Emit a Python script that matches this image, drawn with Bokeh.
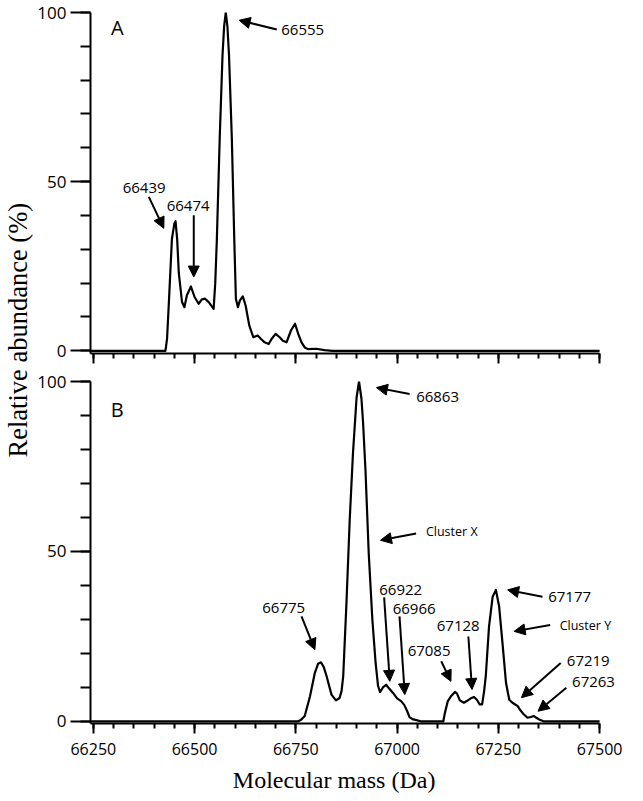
import math
from bokeh.plotting import figure
from bokeh.layouts import row, column
from bokeh.models import FixedTicker, Label, Arrow, NormalHead, Range1d
from bokeh.embed import file_html
from bokeh.resources import INLINE

# ---- data ----
mass_a = [66243, 66428, 66432, 66436, 66440, 66444, 66450, 66453, 66457, 66461,
          66469, 66475, 66481, 66491, 66500, 66510, 66518, 66526, 66535, 66547,
          66551, 66555, 66562, 66569, 66573, 66577, 66581, 66585, 66592, 66598,
          66602, 66607, 66612, 66619, 66626, 66635, 66645, 66656, 66664, 66673,
          66683, 66690, 66700, 66710, 66718, 66727, 66738, 66748, 66756, 66764,
          66772, 66780, 66800, 66821, 66840, 67500]
abund_a = [0, 0, 3.5, 13, 23, 33, 37.6, 38.3, 33, 23,
           14.4, 12.9, 16.4, 19, 15.9, 13.9, 15.2, 15.4, 14.4, 12.4,
           20, 33, 62.7, 87.4, 96, 100, 96, 87.4, 62.7, 33,
           15.4, 12.9, 14.9, 16.1, 13.4, 7.5, 4, 4.5, 3.5, 2.5,
           2, 3.5, 5, 4, 3, 2.5, 6, 8, 5, 2.5,
           1, 0.5, 0.6, 0.2, 0, 0]

mass_b = [66243, 66755, 66762, 66772, 66785, 66797, 66805, 66812, 66819, 66826,
          66838, 66849, 66858, 66863, 66867, 66875, 66883, 66891, 66900, 66906,
          66912, 66916, 66922, 66930, 66939, 66947, 66953, 66958, 66965, 66973,
          66981, 66990, 67000, 67010, 67018, 67025, 67031, 67040, 67050, 67060,
          67114, 67118, 67125, 67133, 67143, 67148, 67155, 67165, 67172, 67182,
          67190, 67197, 67204, 67210, 67215, 67219, 67227, 67236, 67244, 67252,
          67261, 67269, 67277, 67285, 67298, 67303, 67312, 67322, 67330, 67338,
          67345, 67351, 67363, 67500]
abund_b = [0, 0, 0.4, 1.6, 7.4, 14.3, 17, 17.4, 16, 13.3,
           7.9, 6.2, 6.9, 9, 13.3, 34.8, 59.2, 78.7, 95.3, 100,
           95, 88, 73.8, 49.4, 29.9, 17.2, 10.5, 8.6, 10, 10.8,
           9.6, 8.4, 6.8, 6, 4.8, 3, 1.2, 0.6, 0.3, 0,
           0, 2.5, 5.9, 7.4, 8.7, 8.2, 6.2, 5.5, 6, 6.8,
           7.2, 6.4, 5, 5, 9, 13.3, 27.9, 36.7, 38.7, 33.8,
           22.1, 11.3, 6.4, 5.5, 4.5, 3.5, 2.2, 1.1, 1.3, 1.6,
           1, 0.6, 0, 0]

x_major = [66250, 66500, 66750, 67000, 67250, 67500]
x_minor = list(range(66250, 67501, 50))
y_major = [0, 50, 100]
y_minor = list(range(0, 101, 10))

# annotation texts: (text, mass, abundance, size)
labels_a = [("66439", 66375.5, 48.1, "15px"),
            ("66474", 66484, 42.8, "15px"),
            ("66555", 66767, 94.7, "15px")]
arrows_a = [(66387, 45.5, 66424, 36.2),
            (66498, 40.1, 66498, 21.8),
            (66703, 95.0, 66610, 97.7)]

labels_b = [("66775", 66720, 33.4, "15px"),
            ("66863", 67100, 95.5, "15px"),
            ("Cluster X", 67135, 56.0, "12.5px"),
            ("66922", 67009, 38.8, "15px"),
            ("66966", 67042, 33.1, "15px"),
            ("67085", 67079, 20.8, "15px"),
            ("67128", 67151, 28.1, "15px"),
            ("67177", 67426, 36.5, "15px"),
            ("Cluster Y", 67465, 28.1, "12.5px"),
            ("67219", 67472, 17.9, "15px"),
            ("67263", 67485, 11.6, "15px")]
arrows_b = [(66764, 30.9, 66797, 21.1),
            (67031, 96.3, 66949, 98.2),
            (67047, 55.3, 66959, 53.3),
            (66968, 36.5, 66982, 11.8),
            (67006, 30.9, 67019, 7.9),
            (67109, 17.7, 67133, 11.8),
            (67176, 25.0, 67185, 9.4),
            (67359, 36.7, 67273, 38.7),
            (67378, 28.4, 67289, 26.5),
            (67404, 17.2, 67307, 7.0),
            (67418, 9.9, 67348, 3.0)]

SANS = "Open Sans"
SERIF = "Liberation Serif"

X_START, X_AXIS_END, X_VIEW_END = 66243, 67500, 67564
xr = Range1d(X_START, X_VIEW_END)


def make_fig(height, b_top, b_bottom, y_start, show_xlabels):
    p = figure(width=595, height=height, x_range=xr, y_range=Range1d(y_start, 100),
               output_backend="svg", toolbar_location=None,
               min_border_left=54, min_border_right=4,
               min_border_top=b_top, min_border_bottom=b_bottom)
    p.grid.visible = False
    p.outline_line_color = None
    p.background_fill_color = "white"
    for ax in (p.xaxis, p.yaxis):
        ax.axis_line_width = 2
        ax.axis_line_color = "black"
        ax.major_tick_line_width = 2
        ax.minor_tick_line_width = 2
        ax.major_tick_line_color = "black"
        ax.minor_tick_line_color = "black"
        ax.major_tick_in = 0
        ax.minor_tick_in = 0
        ax.major_label_text_color = "black"
        ax.major_label_text_font = SANS
    p.xaxis.bounds = (X_START, X_AXIS_END)
    p.xaxis.ticker = FixedTicker(ticks=x_major, minor_ticks=x_minor)
    p.xaxis.major_tick_out = 10
    p.xaxis.minor_tick_out = 5
    p.yaxis.ticker = FixedTicker(ticks=y_major, minor_ticks=y_minor)
    p.yaxis.major_tick_out = 20
    p.yaxis.minor_tick_out = 10
    p.yaxis.major_label_text_font_size = "17px"
    p.yaxis.major_label_standoff = 4
    p.xaxis.major_label_text_font_size = "16px"
    p.xaxis.major_label_standoff = 9
    if not show_xlabels:
        p.xaxis.major_label_overrides = {t: "" for t in x_major}
        p.xaxis.major_label_standoff = 0
    return p


def annotate(p, letter, letter_pos, labels, arrows):
    p.add_layout(Label(x=letter_pos[0], y=letter_pos[1], text=letter, text_align="center",
                       text_baseline="middle", text_font=SANS, text_font_size="20px",
                       text_color="black"))
    for t, x, y, s in labels:
        p.add_layout(Label(x=x, y=y, text=t, text_align="center", text_baseline="middle",
                           text_font=SANS, text_font_size=s, text_color="black"))
    for x0, y0, x1, y1 in arrows:
        p.add_layout(Arrow(end=NormalHead(size=11, fill_color="black", line_color="black",
                                          line_width=1),
                           x_start=x0, y_start=y0, x_end=x1, y_end=y1,
                           line_width=2, line_color="black"))


pa = make_fig(365, 12, 12, -0.8, False)
pa.line(mass_a, abund_a, line_width=2.2, line_color="black", line_join="round")
annotate(pa, "A", (66309, 95.6), labels_a, arrows_a)

pb = make_fig(399, 16, 41, -0.6, True)
pb.line(mass_b, abund_b, line_width=2.2, line_color="black", line_join="round")
annotate(pb, "B", (66309, 91.9), labels_b, arrows_b)


def text_fig(w, h, text, fx, fy, angle, size):
    f = figure(width=w, height=h, x_range=Range1d(0, 1), y_range=Range1d(0, 1),
               output_backend="svg", toolbar_location=None,
               min_border_left=0, min_border_right=0, min_border_top=0, min_border_bottom=0,
               x_axis_location=None, y_axis_location=None)
    f.outline_line_color = None
    f.grid.visible = False
    f.add_layout(Label(x=fx, y=fy, text=text, angle=angle, text_align="left",
                       text_baseline="middle", text_font=SERIF, text_font_size=size,
                       text_color="black"))
    return f


# x title figure shares the plots' frame alignment (frame spans page x 88..625)
xtitle = text_fig(595, 35, "Molecular mass (Da)", 0.266, 0.543, 0, "24px")
ytitle = text_fig(34, 799, "Relative abundance (%)", 0.5, 0.428, math.pi / 2, "26.5px")

layout = row(ytitle, column(pa, pb, xtitle))
open("out.html", "w").write(file_html(layout, INLINE))
